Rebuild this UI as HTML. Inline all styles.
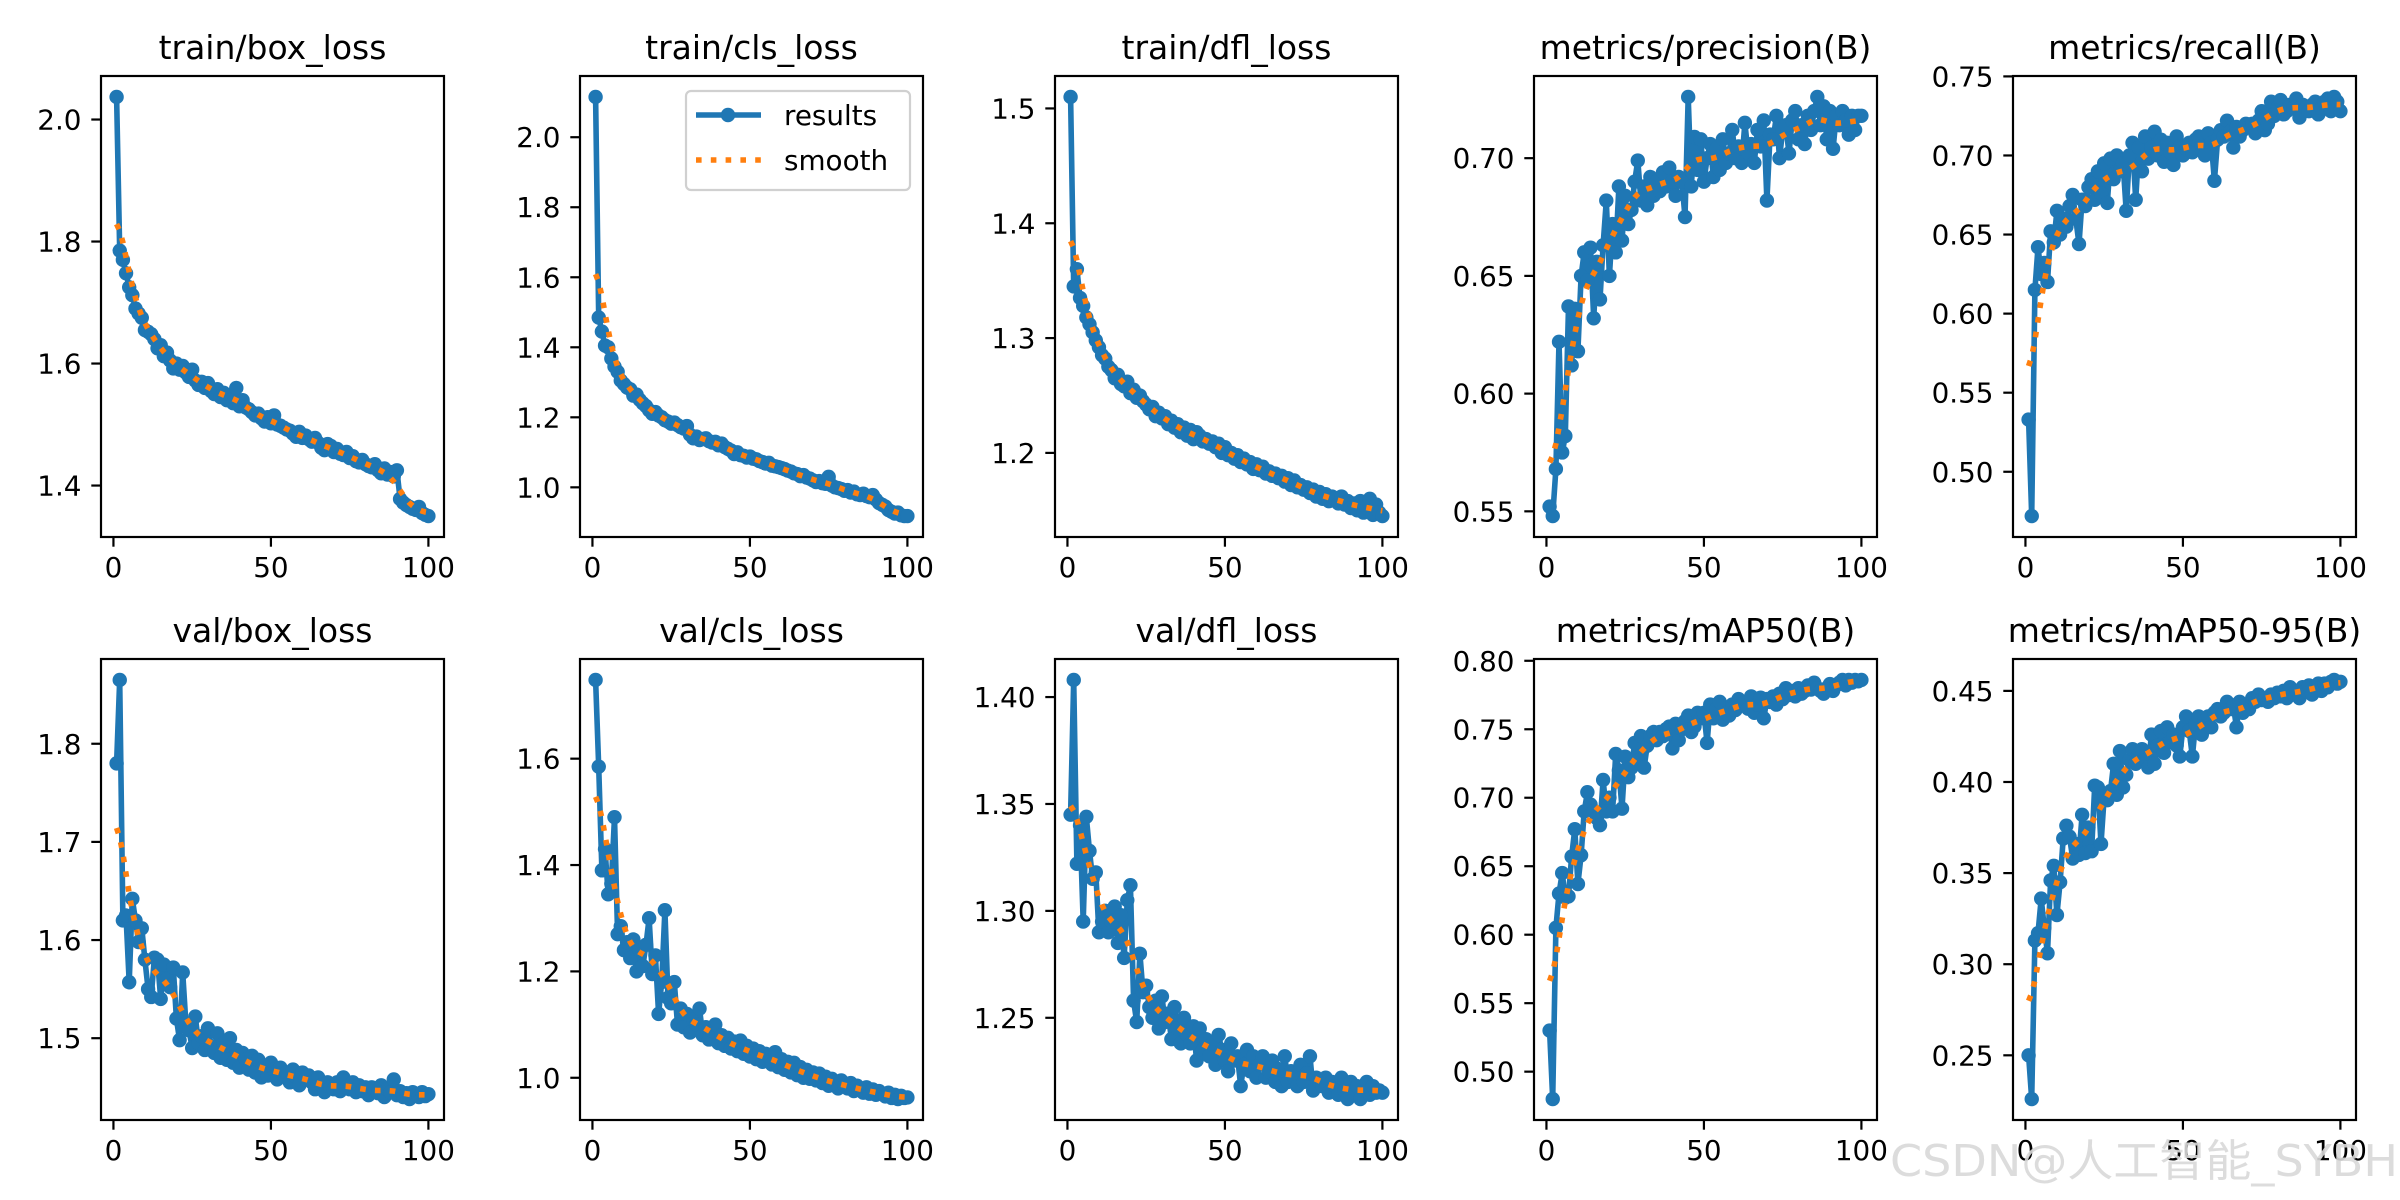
<!DOCTYPE html>
<html><head><meta charset="utf-8"><style>
html,body{margin:0;padding:0;background:#fff;width:2400px;height:1200px;overflow:hidden}
svg{display:block}
text{font-family:"DejaVu Sans","Liberation Sans",sans-serif}
</style></head><body>
<svg id="fig" width="2400" height="1200" xmlns="http://www.w3.org/2000/svg"></svg>
<script>
const epochs = Array.from({length:100},(_,i)=>i+1);
const xTicks = [0,50,100];
const titles = ["train/box_loss","train/cls_loss","train/dfl_loss","metrics/precision(B)","metrics/recall(B)","val/box_loss","val/cls_loss","val/dfl_loss","metrics/mAP50(B)","metrics/mAP50-95(B)"];
const trainBox = [2.037,1.785,1.770,1.748,1.725,1.712,1.690,1.682,1.675,1.655,1.652,1.648,1.640,1.625,1.630,1.612,1.618,1.605,1.592,1.600,1.590,1.596,1.585,1.578,1.590,1.572,1.565,1.570,1.560,1.568,1.555,1.550,1.558,1.545,1.552,1.540,1.548,1.535,1.560,1.530,1.540,1.528,1.525,1.520,1.515,1.518,1.510,1.505,1.512,1.502,1.515,1.500,1.498,1.495,1.492,1.490,1.485,1.480,1.488,1.478,1.482,1.476,1.472,1.478,1.470,1.462,1.458,1.468,1.465,1.455,1.460,1.452,1.450,1.455,1.445,1.448,1.440,1.438,1.442,1.435,1.432,1.430,1.435,1.425,1.420,1.428,1.418,1.422,1.415,1.425,1.378,1.372,1.368,1.365,1.362,1.360,1.365,1.355,1.352,1.350];
const trainCls = [2.115,1.485,1.445,1.405,1.400,1.368,1.345,1.330,1.305,1.295,1.285,1.280,1.262,1.265,1.250,1.240,1.232,1.220,1.210,1.215,1.205,1.200,1.192,1.188,1.182,1.185,1.178,1.172,1.168,1.175,1.150,1.140,1.145,1.135,1.138,1.140,1.132,1.128,1.130,1.120,1.125,1.115,1.110,1.105,1.095,1.100,1.092,1.090,1.085,1.088,1.082,1.080,1.075,1.072,1.068,1.070,1.062,1.060,1.058,1.055,1.052,1.048,1.045,1.040,1.038,1.032,1.035,1.028,1.025,1.020,1.015,1.018,1.012,1.010,1.030,1.005,1.000,0.998,0.995,0.990,0.992,0.985,0.988,0.980,0.978,0.982,0.975,0.972,0.978,0.965,0.955,0.950,0.945,0.935,0.930,0.925,0.928,0.920,0.918,0.918];
const trainDfl = [1.510,1.345,1.360,1.335,1.328,1.318,1.312,1.305,1.298,1.292,1.285,1.282,1.275,1.272,1.265,1.268,1.260,1.258,1.262,1.252,1.255,1.248,1.250,1.245,1.242,1.238,1.240,1.232,1.235,1.230,1.232,1.225,1.228,1.222,1.225,1.218,1.222,1.215,1.220,1.212,1.218,1.215,1.210,1.212,1.208,1.210,1.205,1.208,1.200,1.205,1.198,1.200,1.195,1.198,1.192,1.195,1.190,1.192,1.186,1.190,1.185,1.188,1.182,1.184,1.180,1.182,1.178,1.180,1.175,1.178,1.172,1.176,1.170,1.172,1.168,1.170,1.165,1.168,1.162,1.166,1.160,1.164,1.158,1.162,1.160,1.156,1.162,1.155,1.158,1.152,1.156,1.150,1.158,1.148,1.152,1.160,1.146,1.155,1.148,1.145];
const precision = [0.552,0.548,0.568,0.622,0.575,0.582,0.637,0.612,0.636,0.618,0.650,0.660,0.648,0.662,0.632,0.656,0.640,0.663,0.682,0.650,0.672,0.660,0.688,0.665,0.684,0.672,0.678,0.690,0.699,0.682,0.688,0.680,0.692,0.684,0.690,0.686,0.694,0.688,0.696,0.690,0.684,0.692,0.690,0.675,0.726,0.688,0.709,0.695,0.708,0.690,0.700,0.706,0.692,0.704,0.695,0.708,0.698,0.702,0.712,0.700,0.705,0.698,0.715,0.702,0.706,0.698,0.712,0.705,0.716,0.682,0.710,0.708,0.718,0.700,0.712,0.714,0.702,0.716,0.720,0.708,0.714,0.706,0.718,0.712,0.720,0.726,0.714,0.722,0.708,0.720,0.704,0.718,0.714,0.720,0.716,0.710,0.718,0.712,0.718,0.718];
const recall = [0.533,0.472,0.615,0.642,0.625,0.632,0.620,0.652,0.645,0.665,0.650,0.660,0.655,0.668,0.675,0.660,0.644,0.672,0.668,0.680,0.685,0.672,0.690,0.676,0.695,0.670,0.698,0.685,0.700,0.690,0.695,0.665,0.700,0.708,0.672,0.705,0.690,0.712,0.698,0.705,0.715,0.700,0.710,0.696,0.708,0.702,0.694,0.712,0.706,0.700,0.704,0.708,0.702,0.710,0.712,0.706,0.700,0.714,0.708,0.684,0.710,0.716,0.712,0.722,0.715,0.705,0.718,0.712,0.716,0.720,0.718,0.720,0.714,0.722,0.728,0.716,0.720,0.734,0.725,0.730,0.735,0.726,0.728,0.732,0.730,0.736,0.724,0.732,0.730,0.728,0.732,0.734,0.726,0.730,0.734,0.736,0.728,0.737,0.734,0.728];
const valBox = [1.780,1.865,1.620,1.625,1.557,1.642,1.620,1.598,1.612,1.580,1.550,1.542,1.582,1.580,1.540,1.575,1.560,1.552,1.572,1.520,1.498,1.567,1.515,1.508,1.490,1.522,1.495,1.502,1.488,1.510,1.492,1.485,1.505,1.480,1.495,1.478,1.500,1.475,1.488,1.470,1.485,1.478,1.468,1.482,1.465,1.478,1.460,1.472,1.462,1.475,1.468,1.458,1.470,1.462,1.465,1.455,1.468,1.460,1.452,1.465,1.458,1.462,1.455,1.448,1.460,1.452,1.445,1.455,1.450,1.448,1.455,1.446,1.460,1.450,1.448,1.455,1.445,1.452,1.446,1.450,1.442,1.450,1.446,1.444,1.452,1.440,1.448,1.445,1.458,1.442,1.446,1.440,1.444,1.438,1.445,1.442,1.440,1.445,1.441,1.443];
const valCls = [1.748,1.585,1.390,1.430,1.345,1.365,1.490,1.270,1.285,1.240,1.255,1.225,1.260,1.200,1.240,1.210,1.250,1.300,1.195,1.230,1.120,1.180,1.315,1.150,1.140,1.180,1.100,1.130,1.095,1.120,1.085,1.110,1.100,1.130,1.080,1.095,1.072,1.088,1.100,1.065,1.080,1.060,1.075,1.055,1.068,1.050,1.070,1.045,1.060,1.040,1.055,1.035,1.050,1.030,1.045,1.040,1.025,1.048,1.020,1.035,1.015,1.030,1.010,1.028,1.005,1.020,1.000,1.015,0.998,1.010,0.995,1.008,0.990,1.002,0.985,0.998,0.992,0.980,0.995,0.985,0.980,0.990,0.975,0.985,0.978,0.972,0.982,0.970,0.978,0.968,0.975,0.970,0.965,0.972,0.962,0.968,0.960,0.966,0.962,0.963];
const valDfl = [1.345,1.408,1.322,1.340,1.295,1.344,1.328,1.315,1.318,1.290,1.295,1.300,1.290,1.295,1.302,1.285,1.298,1.278,1.305,1.312,1.258,1.248,1.280,1.262,1.265,1.255,1.250,1.258,1.245,1.260,1.248,1.252,1.240,1.255,1.245,1.238,1.250,1.242,1.238,1.246,1.230,1.245,1.235,1.240,1.232,1.238,1.228,1.242,1.235,1.230,1.225,1.238,1.230,1.232,1.218,1.228,1.235,1.225,1.232,1.222,1.228,1.232,1.222,1.225,1.230,1.220,1.226,1.218,1.232,1.220,1.225,1.222,1.218,1.228,1.220,1.224,1.232,1.216,1.222,1.220,1.218,1.222,1.215,1.220,1.218,1.214,1.222,1.216,1.212,1.220,1.215,1.218,1.212,1.216,1.220,1.214,1.218,1.215,1.216,1.215];
const map50 = [0.530,0.480,0.605,0.630,0.645,0.627,0.628,0.657,0.677,0.637,0.658,0.690,0.704,0.695,0.690,0.685,0.680,0.713,0.690,0.700,0.690,0.732,0.720,0.692,0.730,0.715,0.722,0.740,0.727,0.745,0.722,0.738,0.745,0.748,0.742,0.748,0.745,0.750,0.752,0.736,0.754,0.742,0.750,0.756,0.760,0.748,0.752,0.762,0.758,0.762,0.740,0.768,0.758,0.765,0.770,0.757,0.762,0.760,0.768,0.764,0.772,0.768,0.770,0.765,0.774,0.762,0.768,0.773,0.758,0.772,0.770,0.774,0.768,0.776,0.772,0.780,0.775,0.778,0.774,0.780,0.776,0.778,0.782,0.779,0.784,0.780,0.778,0.776,0.780,0.783,0.778,0.782,0.784,0.786,0.782,0.786,0.784,0.786,0.785,0.786];
const map5095 = [0.250,0.226,0.313,0.317,0.336,0.320,0.306,0.346,0.354,0.327,0.345,0.369,0.376,0.370,0.358,0.366,0.360,0.382,0.361,0.375,0.362,0.398,0.397,0.366,0.392,0.390,0.395,0.410,0.393,0.417,0.397,0.404,0.412,0.418,0.410,0.415,0.418,0.412,0.408,0.426,0.410,0.420,0.428,0.416,0.430,0.422,0.426,0.420,0.414,0.430,0.436,0.428,0.414,0.432,0.436,0.426,0.434,0.436,0.430,0.438,0.440,0.436,0.438,0.444,0.440,0.442,0.430,0.444,0.438,0.442,0.440,0.446,0.444,0.448,0.445,0.446,0.444,0.448,0.446,0.449,0.447,0.450,0.446,0.452,0.448,0.450,0.446,0.452,0.450,0.453,0.448,0.452,0.454,0.450,0.454,0.452,0.455,0.456,0.454,0.455];
const series = [trainBox,trainCls,trainDfl,precision,recall,valBox,valCls,valDfl,map50,map5095];
const yTicks = [[1.4,1.6,1.8,2.0],[1.0,1.2,1.4,1.6,1.8,2.0],[1.2,1.3,1.4,1.5],[0.55,0.60,0.65,0.70],[0.50,0.55,0.60,0.65,0.70,0.75],[1.5,1.6,1.7,1.8],[1.0,1.2,1.4,1.6],[1.25,1.30,1.35,1.40],[0.50,0.55,0.60,0.65,0.70,0.75,0.80],[0.25,0.30,0.35,0.40,0.45]];
const yDecimals = [1,1,1,2,2,1,1,2,2,2];

const NS="http://www.w3.org/2000/svg";
const fig=document.getElementById('fig');
function mk(tag,attrs,parent){const e=document.createElementNS(NS,tag);for(const k in attrs)e.setAttribute(k,attrs[k]);(parent||fig).appendChild(e);return e;}
function gauss(y,s){const r=Math.ceil(4*s),w=[];let sum=0;for(let k=-r;k<=r;k++){const v=Math.exp(-k*k/(2*s*s));w.push(v);sum+=v;}
  const n=y.length,out=[];const idx=i=>{while(i<0||i>=n){if(i<0)i=-i-1;if(i>=n)i=2*n-i-1;}return i;};
  for(let i=0;i<n;i++){let a=0;for(let k=-r;k<=r;k++)a+=w[k+r]*y[idx(i+k)];out.push(a/sum);}return out;}
const lefts=[101,580,1055,1534,2013], W=343, tops=[76,659], H=461;
series.forEach((ys,p)=>{
  const L=lefts[p%5], T=tops[Math.floor(p/5)], R=L+W, B=T+H;
  const g=mk('g',{});
  
  
  const sm=gauss(ys,3);
  const all=ys.concat(sm);let mn=Math.min(...all),mx=Math.max(...all);const m=(mx-mn)*0.05;mn-=m;mx+=m;
  const x0=1-4.95,x1=100+4.95;
  const sx=v=>L+(v-x0)/(x1-x0)*W, sy=v=>B-(v-mn)/(mx-mn)*H;
  const t=mk('text',{x:(L+R)/2,y:T-17,'text-anchor':'middle','font-size':33},g);t.textContent=titles[p];
  
  let d='';ys.forEach((v,i)=>{d+=(i?'L':'M')+sx(epochs[i]).toFixed(1)+' '+sy(v).toFixed(1);});
  const line=mk('path',{d:d,fill:'none',stroke:'#1f77b4','stroke-width':5.6,'stroke-linejoin':'round'},g);
  
  ys.forEach((v,i)=>{const c=mk('circle',{cx:sx(epochs[i]),cy:sy(v),r:7.2,fill:'#1f77b4'},g);
    });
  let d2='';sm.forEach((v,i)=>{d2+=(i?'L':'M')+sx(epochs[i]).toFixed(1)+' '+sy(v).toFixed(1);});
  const sl=mk('path',{d:d2,fill:'none',stroke:'#ff7f0e','stroke-width':5.6,'stroke-dasharray':'5.6 9.2'},g);
  
  const fr=mk('rect',{x:L,y:T,width:W,height:H,fill:'none',stroke:'#000','stroke-width':2.2},g);
  
  xTicks.forEach(v=>{const x=sx(v);mk('line',{x1:x,x2:x,y1:B,y2:B+9.7,stroke:'#000','stroke-width':2.2},g);
    const tx=mk('text',{x:x,y:B+40,'text-anchor':'middle','font-size':27.8},g);tx.textContent=v;
    });
  yTicks[p].forEach(v=>{const y=sy(v);mk('line',{x1:L-9.7,x2:L,y1:y,y2:y,stroke:'#000','stroke-width':2.2},g);
    const ty=mk('text',{x:L-19.5,y:y+10,'text-anchor':'end','font-size':27.8},g);ty.textContent=v.toFixed(yDecimals[p]);
    });
});
// legend in second subplot
const lg=mk('g',{});


mk('rect',{x:686,y:91,width:224,height:99,rx:5,fill:'#fff','fill-opacity':0.8,stroke:'#d0d0d0','stroke-width':2.2},lg);
mk('line',{x1:696,x2:761,y1:115,y2:115,stroke:'#1f77b4','stroke-width':5.6},lg);
mk('circle',{cx:728,cy:115,r:7.2,fill:'#1f77b4'},lg);
const l1=mk('text',{x:784,y:125,'font-size':27.8},lg);l1.textContent='results';

mk('line',{x1:696,x2:761,y1:160,y2:160,stroke:'#ff7f0e','stroke-width':5.6,'stroke-dasharray':'5.6 9.2'},lg);
const l2=mk('text',{x:784,y:170,'font-size':27.8},lg);l2.textContent='smooth';

// watermark
const wm=mk('text',{x:1890,y:1176,'font-size':44,fill:'#d8d8d8','fill-opacity':0.9,textLength:508,lengthAdjust:'spacingAndGlyphs','font-family':'"Liberation Sans","Noto Sans CJK SC",sans-serif'});
wm.textContent='CSDN@人工智能_SYBH';


</script>
</body></html>
